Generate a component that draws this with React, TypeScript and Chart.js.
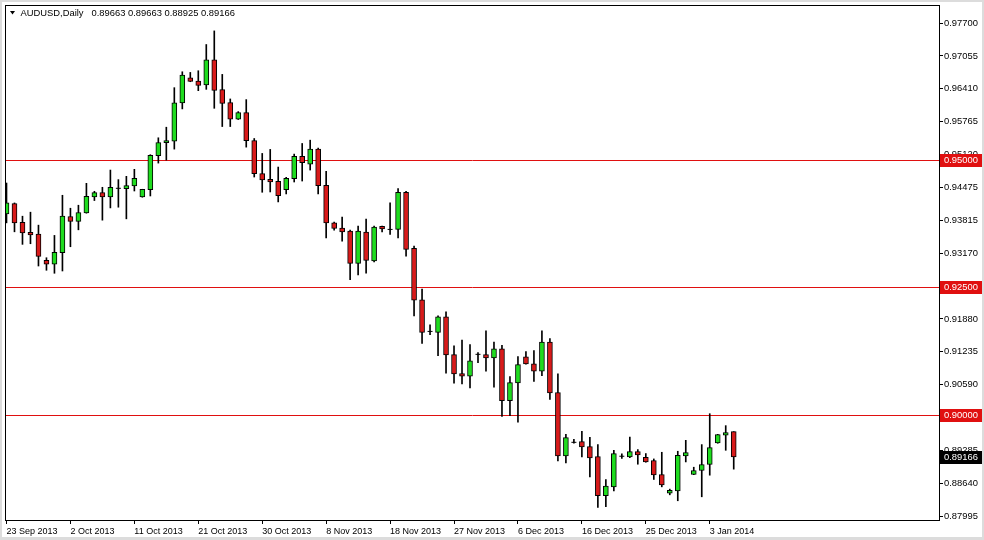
import React, { useEffect, useRef } from 'react';
import { Chart, registerables } from 'chart.js';

Chart.register(...registerables);

// ---- data (AUDUSD daily, 23 Sep 2013 .. 7 Jan 2014, 92 bars incl. Sunday bars) ----
const opens = [
  0.93948, 0.94151, 0.93779, 0.93583, 0.93550, 0.93034, 0.92956, 0.93183, 0.93897, 0.93799,
  0.93967, 0.94281, 0.94367, 0.94281, 0.94451, 0.94445, 0.94496, 0.94281, 0.94426, 0.95092,
  0.95347, 0.95378, 0.96131, 0.96627, 0.96562, 0.96484, 0.96980, 0.96392, 0.96137, 0.95810,
  0.95941, 0.95392, 0.94739, 0.94628, 0.94588, 0.94426, 0.94641, 0.95078, 0.94928, 0.95222,
  0.94510, 0.93771, 0.93667, 0.93608, 0.92975, 0.93589, 0.93020, 0.93701, 0.93642, 0.93642,
  0.94373, 0.93269, 0.92256, 0.91635, 0.91615, 0.91923, 0.91178, 0.90806, 0.90753, 0.91184,
  0.91178, 0.91113, 0.91290, 0.90271, 0.90623, 0.91133, 0.90996, 0.90851, 0.91427, 0.90433,
  0.89185, 0.89453, 0.89467, 0.89369, 0.89173, 0.88401, 0.88577, 0.89179, 0.89165, 0.89271,
  0.89159, 0.89095, 0.88820, 0.88454, 0.88499, 0.89185, 0.88820, 0.88899, 0.89016, 0.89440,
  0.89596, 0.89663,
];
const highs = [
  0.94555, 0.94163, 0.93902, 0.93981, 0.93726, 0.93085, 0.93524, 0.94314, 0.94059, 0.94118,
  0.94549, 0.94392, 0.94471, 0.94810, 0.94622, 0.94686, 0.94824, 0.94432, 0.95112, 0.95445,
  0.95653, 0.96431, 0.96744, 0.96731, 0.96764, 0.97280, 0.97548, 0.96692, 0.96209, 0.95960,
  0.96196, 0.95431, 0.95137, 0.95216, 0.94869, 0.94667, 0.95124, 0.95333, 0.95398, 0.95241,
  0.94784, 0.93785, 0.93883, 0.93628, 0.93706, 0.93844, 0.93706, 0.93706, 0.94163, 0.94445,
  0.94392, 0.93314, 0.92466, 0.91766, 0.91942, 0.92021, 0.91349, 0.91466, 0.91374, 0.91217,
  0.91648, 0.91427, 0.91360, 0.90747, 0.91139, 0.91237, 0.91256, 0.91648, 0.91492, 0.90800,
  0.89610, 0.89512, 0.89669, 0.89551, 0.89408, 0.88722, 0.89296, 0.89224, 0.89557, 0.89310,
  0.89232, 0.89126, 0.89257, 0.88532, 0.89277, 0.89492, 0.88963, 0.89408, 0.90016, 0.89610,
  0.89781, 0.89663,
];
const lows = [
  0.93771, 0.93595, 0.93348, 0.93360, 0.92922, 0.92838, 0.92779, 0.92824, 0.93301, 0.93634,
  0.93961, 0.94210, 0.93824, 0.94065, 0.94079, 0.93850, 0.94398, 0.94275, 0.94300, 0.94947,
  0.95006, 0.95222, 0.96013, 0.96548, 0.96372, 0.96398, 0.96025, 0.95666, 0.95666, 0.95804,
  0.95261, 0.94673, 0.94373, 0.94379, 0.94183, 0.94340, 0.94575, 0.94594, 0.94810, 0.94340,
  0.93477, 0.93628, 0.93412, 0.92654, 0.92746, 0.92779, 0.93001, 0.93595, 0.93544, 0.93477,
  0.93118, 0.91942, 0.91400, 0.91570, 0.91158, 0.90812, 0.90616, 0.90604, 0.90525, 0.91021,
  0.90851, 0.90537, 0.89963, 0.89977, 0.89851, 0.90992, 0.90649, 0.90766, 0.90296, 0.89087,
  0.89048, 0.89434, 0.89165, 0.88773, 0.88173, 0.88185, 0.88499, 0.89134, 0.89153, 0.89022,
  0.89061, 0.88722, 0.88577, 0.88420, 0.88303, 0.89067, 0.88816, 0.88381, 0.88806, 0.89434,
  0.89296, 0.88925,
];
const closes = [
  0.94163, 0.93771, 0.93575, 0.93536, 0.93113, 0.92956, 0.93191, 0.93902, 0.93799, 0.93975,
  0.94294, 0.94367, 0.94281, 0.94471, 0.94451, 0.94504, 0.94647, 0.94432, 0.95098, 0.95353,
  0.95392, 0.96131, 0.96680, 0.96554, 0.96476, 0.96980, 0.96378, 0.96123, 0.95810, 0.95941,
  0.95386, 0.94739, 0.94614, 0.94575, 0.94308, 0.94647, 0.95078, 0.94955, 0.95222, 0.94504,
  0.93771, 0.93661, 0.93595, 0.92975, 0.93608, 0.93034, 0.93687, 0.93654, 0.93642, 0.94373,
  0.93250, 0.92250, 0.91615, 0.91635, 0.91923, 0.91172, 0.90800, 0.90753, 0.91055, 0.91184,
  0.91113, 0.91290, 0.90271, 0.90629, 0.90982, 0.90996, 0.90851, 0.91427, 0.90427, 0.89185,
  0.89545, 0.89453, 0.89361, 0.89146, 0.88401, 0.88591, 0.89232, 0.89179, 0.89271, 0.89204,
  0.89067, 0.88812, 0.88616, 0.88507, 0.89198, 0.89251, 0.88899, 0.89016, 0.89349, 0.89604,
  0.89643, 0.89166,
];

const tickIndices = [0, 8, 16, 24, 32, 40, 48, 56, 64, 72, 80, 88];
const dateLabels = [
  '23 Sep 2013', '2 Oct 2013', '11 Oct 2013', '21 Oct 2013', '30 Oct 2013', '8 Nov 2013',
  '18 Nov 2013', '27 Nov 2013', '6 Dec 2013', '16 Dec 2013', '25 Dec 2013', '3 Jan 2014',
];
const priceTicks = [
  0.977, 0.97055, 0.9641, 0.95765, 0.9512, 0.94475, 0.93815, 0.9317,
  0.92525, 0.9188, 0.91235, 0.9059, 0.89945, 0.89285, 0.8864, 0.87995,
];
const levels = [0.95, 0.925, 0.9];
const titleSymbol = 'AUDUSD,Daily';
const titleValues = '0.89663 0.89663 0.88925 0.89166';

const BULL = '#1fdc1f';
const BEAR = '#d81a1a';
const LINE_RED = '#e01010';
const FONT = '"Liberation Sans", Arial, sans-serif';

const zeroPad = (s: any) => {
  s.paddingTop = 0;
  s.paddingBottom = 0;
  s.paddingLeft = 0;
  s.paddingRight = 0;
};

export default function App() {
  const ref = useRef<HTMLCanvasElement>(null);

  useEffect(() => {
    document.body.style.margin = '0';
    const idx = opens.map((_, i) => i);

    const overlay = {
      id: 'mt4overlay',
      beforeDatasetsDraw(chart: any) {
        const { ctx, chartArea: a, scales } = chart;
        const y = scales.y;
        ctx.save();
        ctx.strokeStyle = LINE_RED;
        ctx.lineWidth = 1;
        levels.forEach((l) => {
          const py = Math.round(y.getPixelForValue(l)) + 0.5;
          ctx.beginPath();
          ctx.moveTo(a.left, py);
          ctx.lineTo(a.right, py);
          ctx.stroke();
        });
        ctx.restore();
      },
      afterDraw(chart: any) {
        const { ctx, chartArea: a, scales, width, height } = chart;
        const y = scales.y;
        ctx.save();
        // outer window edge
        ctx.fillStyle = '#dcdcdc';
        ctx.fillRect(0, 0, width, 2);
        ctx.fillRect(0, 0, 2, height);
        ctx.fillRect(width - 2, 0, 2, height);
        ctx.fillRect(0, height - 3, width, 3);
        // frame
        ctx.strokeStyle = '#000';
        ctx.lineWidth = 1;
        ctx.strokeRect(a.left + 0.5, a.top + 0.5, a.right - a.left - 1, a.bottom - a.top - 1);
        // level labels
        ctx.font = `9.4px ${FONT}`;
        ctx.textBaseline = 'middle';
        ctx.textAlign = 'left';
        const box = (v: number, bg: string) => {
          const py = Math.round(y.getPixelForValue(v));
          ctx.fillStyle = bg;
          ctx.fillRect(a.right, py - 6, 42, 13);
          ctx.fillStyle = '#fff';
          ctx.fillText(v.toFixed(5), a.right + 4, py + 0.5);
        };
        levels.forEach((l) => box(l, LINE_RED));
        box(closes[closes.length - 1], '#000');
        // title
        ctx.fillStyle = '#000';
        ctx.beginPath();
        ctx.moveTo(10, 11);
        ctx.lineTo(15, 11);
        ctx.lineTo(12.5, 14.5);
        ctx.closePath();
        ctx.fill();
        ctx.fillText(titleSymbol, 20.5, 13);
        ctx.fillText(titleValues, 91.5, 13);
        ctx.restore();
      },
    };

    const chart = new Chart(ref.current as HTMLCanvasElement, {
      type: 'bar',
      data: {
        datasets: [
          {
            type: 'scatter',
            label: 'doji',
            data: idx.filter((i) => opens[i] === closes[i]).map((i) => ({ x: i, y: opens[i] })),
            pointStyle: 'line',
            pointRadius: 2.5,
            pointBorderColor: '#000',
            pointBorderWidth: 1,
            order: 0,
          } as any,
          {
            label: 'body',
            data: idx
              .filter((i) => opens[i] !== closes[i])
              .map((i) => ({ x: i, y: [opens[i], closes[i]] })) as any,
            backgroundColor: (c: any) => {
              const r = c.raw;
              return r && r.y[1] > r.y[0] ? BULL : BEAR;
            },
            borderColor: '#000',
            borderWidth: 1,
            borderSkipped: false,
            barThickness: 5,
            grouped: false,
            order: 1,
          },
          {
            label: 'wick',
            data: idx.map((i) => ({ x: i, y: [lows[i], highs[i]] })) as any,
            backgroundColor: '#000',
            borderWidth: 0,
            barThickness: 1,
            grouped: false,
            order: 2,
          },
        ],
      },
      options: {
        responsive: false,
        maintainAspectRatio: false,
        animation: false,
        events: [],
        layout: { padding: { left: 4, top: 3, right: 0, bottom: 0 } },
        plugins: { legend: { display: false }, tooltip: { enabled: false } },
        scales: {
          x: {
            type: 'linear',
            offset: false,
            min: -0.1875,
            max: 116.8125,
            afterBuildTicks: (s: any) => {
              s.ticks = tickIndices.map((v) => ({ value: v }));
            },
            afterFit: (s: any) => {
              s.height = 19;
              zeroPad(s);
            },
            grid: { drawOnChartArea: false, drawTicks: true, tickLength: 3, color: '#000', offset: false },
            border: { display: false },
            ticks: {
              autoSkip: false,
              maxRotation: 0,
              minRotation: 0,
              align: 'start',
              padding: 2,
              color: '#000',
              font: { family: FONT, size: 9 },
              callback: (v: any) => {
                const k = tickIndices.indexOf(Number(v));
                return k >= 0 ? dateLabels[k] : null;
              },
            },
          },
          y: {
            type: 'linear',
            position: 'right',
            min: 0.879048,
            max: 0.980576,
            afterBuildTicks: (s: any) => {
              s.ticks = priceTicks.map((v) => ({ value: v }));
            },
            afterFit: (s: any) => {
              s.width = 44;
              zeroPad(s);
            },
            grid: { drawOnChartArea: false, drawTicks: true, tickLength: 3, color: '#000' },
            border: { display: false },
            ticks: {
              autoSkip: false,
              padding: 1,
              color: '#000',
              font: { family: FONT, size: 9.4 },
              callback: (v: any) => Number(v).toFixed(5),
            },
          },
        },
      } as any,
      plugins: [overlay],
    });

    return () => chart.destroy();
  }, []);

  return (
    <div style={{ width: 984, height: 540, background: '#fff' }}>
      <canvas ref={ref} width={984} height={540} style={{ display: 'block' }} />
    </div>
  );
}
